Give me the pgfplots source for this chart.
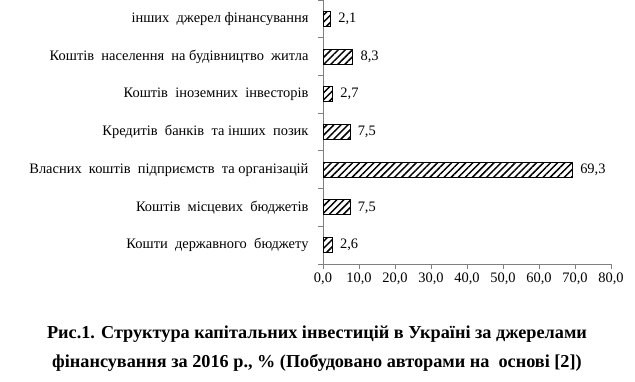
\documentclass[border=0pt]{standalone}
\usepackage{fontspec}
\setmainfont{Liberation Serif}
\usepackage{pgfplots}
\pgfplotsset{compat=1.18}
\usetikzlibrary{patterns.meta}
\begin{document}
\begin{tikzpicture}[x=1bp,y=1bp]
\useasboundingbox (0,0) rectangle (635,381);
\begin{axis}[
  at={(323bp,117bp)}, anchor=south west, scale only axis,
  width=288bp, height=264bp,
  xbar, bar width=15bp,
  xmin=0, xmax=80, ymin=-0.5, ymax=6.5,
  axis x line*=bottom, axis y line*=left,
  axis line style={-, draw=gray, line width=0.8bp},
  tick align=outside,
  major tick length=5bp, minor tick length=5bp,
  xtick={0,10,...,80},
  ytick={0,...,6},
  minor ytick={-0.5,0.5,...,6.5},
  major y tick style={draw=none},
  minor y tick style={draw=gray, line width=0.8bp},
  x tick style={draw=gray, line width=0.8bp},
  yticklabels={Кошти\ \ державного\ \ бюджету, Коштів\ \ місцевих\ \ бюджетів, Власних\ \ коштів\ \ підприємств\ \ та організацій, Кредитів\ \ банків\ \ та інших\ \ позик, Коштів\ \ іноземних\ \ інвесторів, Коштів\ \ населення\ \ на будівництво\ \ житла, інших\ \ джерел фінансування},
  /pgf/number format/.cd, fixed, precision=1, fixed zerofill, use comma, assume math mode=true,
  /pgfplots/.cd,
  xticklabel style={font=\fontsize{14.5}{16}\selectfont, text=black},
  yticklabel style={font=\fontsize{14.5}{16}\selectfont, text=black, xshift=-6bp},
  point meta=x,
  nodes near coords={\pgfmathprintnumber[fixed, precision=1, fixed zerofill, use comma, assume math mode=true]{\pgfplotspointmeta}},
  nodes near coords style={anchor=west, xshift=4bp, font=\fontsize{14.5}{16}\selectfont, text=black},
  clip=false,
]
\addplot[draw=black, line width=0.9bp, pattern={Lines[angle=45, distance=5bp, line width=1.5bp]}, pattern color=black]
  coordinates {(2.6,0) (7.5,1) (69.3,2) (7.5,3) (2.7,4) (8.3,5) (2.1,6)};
\end{axis}
\node[align=center, font=\bfseries\fontsize{18.3}{28.5}\selectfont] at (317,32.5)
  {Рис.1. Структура капітальних інвестицій в Україні за джерелами\\фінансування за 2016 р., \% (Побудовано авторами на\ \ основі [2])};
\end{tikzpicture}
\end{document}
